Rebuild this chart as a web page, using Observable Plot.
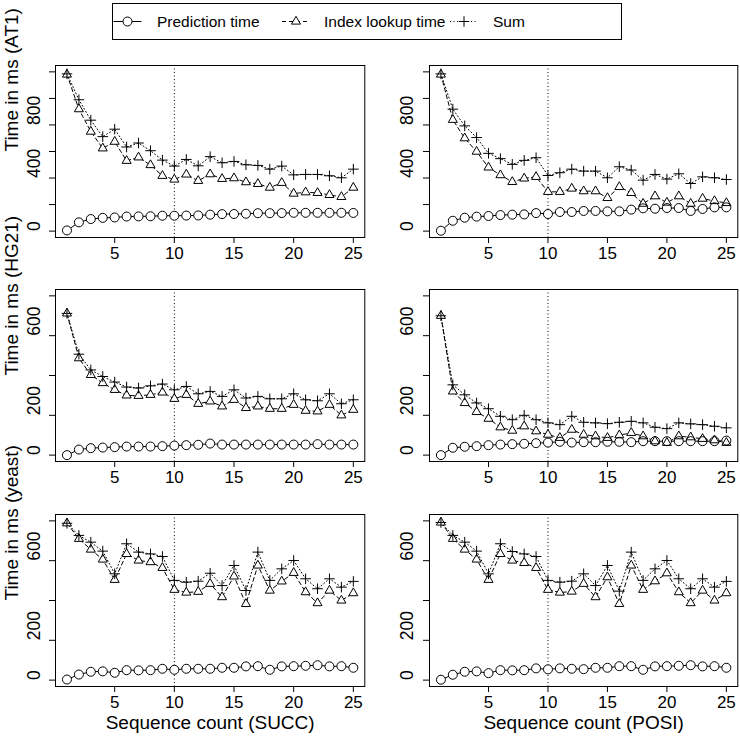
<!DOCTYPE html>
<html><head><meta charset="utf-8">
<script src="https://cdn.jsdelivr.net/npm/d3@7"></script>
<script src="https://cdn.jsdelivr.net/npm/@observablehq/plot@0.6"></script>
<style>
body{margin:0;background:#fff;font-family:"Liberation Sans",Arial,sans-serif;}
#root{position:relative;width:740px;height:739px;overflow:hidden;background:#fff;}
</style></head><body><div id="root"></div>
<script>
// ---- data ----
const seqCount = [1,2,3,4,5,6,7,8,9,10,11,12,13,14,15,16,17,18,19,20,21,22,23,24,25];

const predAT1Succ   = [5,66,91,100,103,110,111,112,116,116,117,118,124,128,129,131,135,135,136,138,138,138,138,138,137];
const lookupAT1Succ = [1180,919,750,624,674,530,556,498,417,389,427,379,429,394,399,369,356,328,364,283,293,288,273,258,328];
const sumAT1Succ    = [1185,990,836,712,768,634,664,606,535,490,540,492,561,515,525,500,495,467,490,424,427,427,417,402,467];

const predAT1Posi   = [3,78,101,109,114,121,124,126,136,129,144,144,152,152,149,149,162,172,169,174,174,152,167,179,179];
const lookupAT1Posi = [1180,839,700,599,480,422,371,397,409,296,296,321,301,301,250,333,288,207,263,215,263,207,245,227,212];
const sumAT1Posi    = [1185,919,793,705,586,546,503,533,553,419,440,467,452,452,402,485,460,384,427,392,432,359,409,402,389];

const predHG21Succ   = [0,28,35,38,40,43,43,43,45,48,50,52,58,53,53,53,53,53,53,53,53,55,53,53,53];
const lookupHG21Succ = [712,487,403,362,328,300,298,303,315,283,303,258,270,245,278,237,245,233,233,253,223,220,253,200,228];
const sumHG21Succ    = [712,507,428,395,367,342,337,348,357,328,345,308,320,295,328,287,295,283,283,308,278,273,308,258,278];

const predHG21Posi   = [0,37,42,45,50,53,55,57,60,63,67,63,65,65,67,67,65,70,70,70,70,70,70,70,73];
const lookupHG21Posi = [700,320,262,217,183,140,123,145,120,103,87,128,103,95,87,100,112,95,70,62,95,90,82,75,62];
const sumHG21Posi    = [700,353,303,262,233,195,178,200,178,162,153,195,165,162,158,165,170,162,140,133,162,157,153,145,137];

const predYeastSucc   = [3,28,42,44,37,50,49,50,57,52,57,57,57,62,62,69,70,52,69,70,72,75,69,70,62];
const lookupYeastSucc = [788,710,656,606,504,634,601,593,564,454,440,444,484,417,521,383,576,450,496,539,442,387,450,400,437];
const sumYeastSucc    = [788,727,693,648,534,685,643,634,621,501,492,497,537,475,576,450,643,501,559,601,509,459,509,467,496];

const predYeastPosi   = [2,27,42,44,35,50,49,50,59,54,59,57,55,62,62,70,70,52,69,70,72,75,69,70,62];
const lookupYeastPosi = [792,710,656,606,504,634,601,589,564,454,440,445,484,417,517,383,576,454,497,537,442,387,450,400,437];
const sumYeastPosi    = [792,727,693,648,534,685,646,634,621,501,492,497,534,475,576,447,643,501,559,601,509,459,509,467,496];

const xTicks = [5,10,15,20,25];
const yTicksTop = [0,200,400,600,800,1000,1200];
const yLabelsTop = [0,400,800];
const yTicksLow = [0,200,400,600,800];
const yLabelsLow = [0,200,600];
const rowTitles = ["Time in ms (AT1)","Time in ms (HG21)","Time in ms (yeast)"];
const colTitles = ["Sequence count (SUCC)","Sequence count (POSI)"];
const seriesNames = ["Prediction time","Index lookup time","Sum"];
const markerLine = 10;

// ---- layout ----
const FONT = '"Liberation Sans", Arial, sans-serif';
const root = document.getElementById("root");
const boxLeft = [55, 428.7], boxW = [309.3, 308.3];
const boxTop = [65, 289.3, 513.6], boxH = 172;
const ML = 55, MR = 3, MT = 5, MB = 58;

const panels = [
  {row:0,col:0,pred:predAT1Succ,lookup:lookupAT1Succ,sum:sumAT1Succ},
  {row:0,col:1,pred:predAT1Posi,lookup:lookupAT1Posi,sum:sumAT1Posi},
  {row:1,col:0,pred:predHG21Succ,lookup:lookupHG21Succ,sum:sumHG21Succ},
  {row:1,col:1,pred:predHG21Posi,lookup:lookupHG21Posi,sum:sumHG21Posi},
  {row:2,col:0,pred:predYeastSucc,lookup:lookupYeastSucc,sum:sumYeastSucc},
  {row:2,col:1,pred:predYeastPosi,lookup:lookupYeastPosi,sum:sumYeastPosi}
];

function rows(arr){ return arr.map((v,i)=>({x:seqCount[i], y:v})); }

for (const p of panels) {
  const top = p.row === 0;
  const yDomain = top ? [-48, 1248] : [-32, 832];
  const yTicks = top ? yTicksTop : yTicksLow;
  const yLabels = top ? yLabelsTop : yLabelsLow;
  const P = rows(p.pred), L = rows(p.lookup), S = rows(p.sum);
  const marks = [
    Plot.ruleX([markerLine], {stroke:"#000", strokeWidth:1, strokeDasharray:"1,2.5"}),
    Plot.line(P, {x:"x", y:"y", stroke:"#000", strokeWidth:1}),
    Plot.line(L, {x:"x", y:"y", stroke:"#000", strokeWidth:1, strokeDasharray:"4,3"}),
    Plot.line(S, {x:"x", y:"y", stroke:"#000", strokeWidth:1, strokeDasharray:"1,2.5"}),
    Plot.dot(P, {x:"x", y:"y", r:4.5, fill:"white", stroke:"none"}),
    Plot.dot(L, {x:"x", y:"y", symbol:"triangle2", r:4.3, fill:"white", stroke:"none"}),
    Plot.dot(P, {x:"x", y:"y", r:4.5, fill:"none", stroke:"#000", strokeWidth:1}),
    Plot.dot(L, {x:"x", y:"y", symbol:"triangle2", r:4.3, fill:"none", stroke:"#000", strokeWidth:1}),
    Plot.dot(S, {x:"x", y:"y", symbol:"plus", r:3.5, fill:"none", stroke:"#000", strokeWidth:1}),
    Plot.frame({stroke:"#000", strokeWidth:1}),
    Plot.axisX({ticks:xTicks, tickSize:6, tickFormat:()=>"", label:null}),
    Plot.axisY({ticks:yTicks, tickSize:6, tickFormat:()=>"", label:null}),
    Plot.text(xTicks, {x:d=>d, text:d=>String(d), frameAnchor:"bottom", dy:16, fontSize:17, lineAnchor:"middle", fill:"#000"}),
    Plot.text(yLabels, {y:d=>d, text:d=>String(d), frameAnchor:"left", dx:(p.col===0?-21:-22), rotate:-90, fontSize:17.5, fill:"#000"})
  ];
  if (p.col === 0) {
    marks.push(Plot.text([rowTitles[p.row]], {text:d=>d, frameAnchor:"left", dx:-44, rotate:-90, fontSize:19, fill:"#000"}));
  }
  if (p.row === 2) {
    marks.push(Plot.text([colTitles[p.col]], {text:d=>d, frameAnchor:"bottom", dy:43, fontSize:19, fill:"#000"}));
  }
  const svg = Plot.plot({
    width: ML + boxW[p.col] + MR,
    height: MT + boxH + MB,
    marginLeft: ML, marginRight: MR, marginTop: MT, marginBottom: MB,
    x: {domain:[0.04, 25.96]},
    y: {domain: yDomain},
    style: {background:"transparent", overflow:"visible", fontFamily:FONT, color:"#000"},
    marks
  });
  svg.style.position = "absolute";
  svg.style.left = (boxLeft[p.col] - ML) + "px";
  svg.style.top = (boxTop[p.row] - MT) + "px";
  root.appendChild(svg);
}

// ---- legend ----
const lg = d3.select(root).append("svg")
  .attr("width", 740).attr("height", 45)
  .style("position","absolute").style("left","0px").style("top","0px")
  .style("font-family", FONT);
lg.append("rect").attr("x",112.5).attr("y",3.5).attr("width",509).attr("height",36)
  .attr("fill","none").attr("stroke","#000");
const ly = 21.5;
const items = [
  {cx:127.5, tx:157, dash:null, sym:d3.symbolCircle, size:Math.PI*4.5*4.5},
  {cx:296, tx:324, dash:"4,3", sym:d3.symbolTriangle2, size:Math.PI*4.3*4.3},
  {cx:464, tx:493, dash:"1,2.5", sym:d3.symbolPlus, size:Math.PI*3.5*3.5}
];
items.forEach((it,i)=>{
  lg.append("line").attr("x1",it.cx-14).attr("x2",it.cx+14).attr("y1",ly).attr("y2",ly)
    .attr("stroke","#000").attr("stroke-dasharray",it.dash);
  if (i < 2) lg.append("path").attr("transform",`translate(${it.cx},${ly})`)
    .attr("d", d3.symbol(it.sym, it.size)()).attr("fill","white").attr("stroke","none");
  lg.append("path").attr("transform",`translate(${it.cx},${ly})`)
    .attr("d", d3.symbol(it.sym, it.size)()).attr("fill","none").attr("stroke","#000");
  lg.append("text").attr("x",it.tx).attr("y",ly).attr("dominant-baseline","central")
    .attr("font-size",15.5).attr("fill","#000").text(seriesNames[i]);
});
</script>
</body></html>
